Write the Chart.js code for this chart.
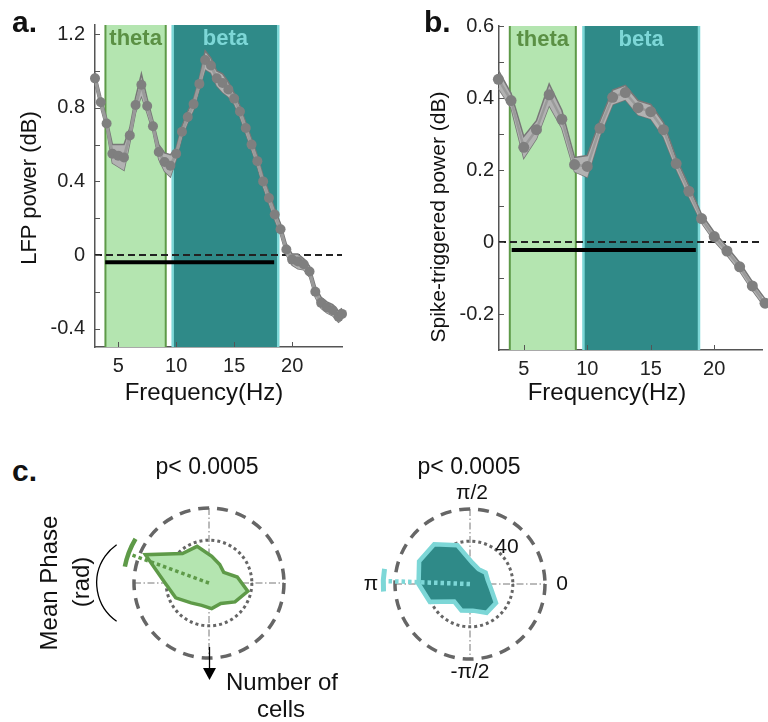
<!DOCTYPE html>
<html><head><meta charset="utf-8">
<script src="https://cdn.jsdelivr.net/npm/chart.js@4/dist/chart.umd.min.js"></script>
<style>
html,body{margin:0;padding:0;background:#fff}
body{width:768px;height:722px;overflow:hidden;position:relative;font-family:"Liberation Sans",Arial,sans-serif;color:#111}
canvas{position:absolute}
.t{position:absolute;white-space:nowrap;line-height:1}
.c{transform:translateX(-50%)}
.r{transform:translate(-50%,-50%) rotate(-90deg)}
.b{font-weight:bold}
</style></head><body>
<canvas id="ca" width="360" height="410" style="left:0;top:0"></canvas>
<canvas id="cb" width="348" height="410" style="left:420px;top:0"></canvas>
<canvas id="pl" width="300" height="300" style="left:59px;top:433px"></canvas>
<canvas id="pr" width="300" height="300" style="left:320px;top:434px"></canvas>

<div class="t b" style="left:12px;top:7px;font-size:30px">a.</div>
<div class="t b" style="left:424px;top:7px;font-size:30px">b.</div>
<div class="t b" style="left:12px;top:456px;font-size:30px">c.</div>
<div class="t r" style="left:29px;top:188px;font-size:22px">LFP power (dB)</div>
<div class="t r" style="left:437px;top:217px;font-size:21px">Spike-triggered power (dB)</div>
<div class="t c" style="left:204px;top:380px;font-size:24px">Frequency(Hz)</div>
<div class="t c" style="left:607px;top:380px;font-size:24px">Frequency(Hz)</div>
<div class="t c" style="left:207px;top:455px;font-size:23px">p&lt; 0.0005</div>
<div class="t c" style="left:469px;top:455px;font-size:23px">p&lt; 0.0005</div>
<div class="t r" style="left:49px;top:583px;font-size:24px">Mean Phase</div>
<div class="t r" style="left:81px;top:582px;font-size:24px">(rad)</div>
<div class="t c" style="left:282px;top:670px;font-size:24px">Number of</div>
<div class="t c" style="left:281px;top:697px;font-size:24px">cells</div>
<div class="t c" style="left:472px;top:481px;font-size:21px">π/2</div>
<div class="t c" style="left:562px;top:572px;font-size:21px">0</div>
<div class="t c" style="left:371px;top:572px;font-size:21px">π</div>
<div class="t c" style="left:507px;top:535px;font-size:21px">40</div>
<div class="t c" style="left:470px;top:660px;font-size:21px">-π/2</div>

<script>
// ---------- data ----------
const freqA = [3.0,3.5,4.0,4.5,5.0,5.5,6.0,6.5,7.0,7.5,8.0,8.5,9.0,9.5,10.0,10.5,11.0,11.5,12.0,12.5,13.0,13.5,14.0,14.5,15.0,15.5,16.0,16.5,17.0,17.5,18.0,18.5,19.0,19.5,20.0,20.5,21.0,21.5,22.0,22.5,23.0,23.5,24.0,24.3];
const lfpMean = [0.96,0.83,0.715,0.55,0.54,0.53,0.65,0.815,0.925,0.81,0.70,0.56,0.505,0.485,0.55,0.67,0.75,0.82,0.93,1.06,1.03,0.96,0.935,0.90,0.85,0.78,0.69,0.60,0.51,0.40,0.31,0.22,0.14,0.03,-0.025,-0.035,-0.05,-0.09,-0.20,-0.26,-0.285,-0.30,-0.335,-0.32];
const lfpSem = [0.03,0.03,0.03,0.05,0.06,0.07,0.04,0.04,0.06,0.04,0.03,0.04,0.05,0.06,0.03,0.03,0.03,0.03,0.03,0.05,0.04,0.04,0.05,0.04,0.03,0.03,0.03,0.03,0.03,0.03,0.03,0.03,0.03,0.03,0.03,0.04,0.03,0.03,0.03,0.03,0.03,0.03,0.03,0.03];

const freqB = [3,4,5,6,7,8,9,10,11,12,13,14,15,16,17,18,19,20,21,22,23,24];
const stpMean = [0.452,0.393,0.263,0.312,0.409,0.341,0.215,0.21,0.316,0.402,0.415,0.373,0.362,0.312,0.218,0.141,0.065,0.015,-0.025,-0.069,-0.122,-0.17];
const stpSem = [0.025,0.02,0.03,0.025,0.03,0.025,0.02,0.03,0.02,0.02,0.02,0.02,0.02,0.02,0.015,0.015,0.012,0.012,0.012,0.012,0.012,0.012];

const thetaBand = [3.9, 9.1];
const betaBand = [9.7, 18.8];
const sigA = [3.88, 18.45], sigLevelA = -0.04;
const sigB = [4.05, 18.55], sigLevelB = -0.022;

const xTicks = [5,10,15,20];
const yTicksA = [-0.4,-0.2,0,0.2,0.4,0.6,0.8,1.0,1.2];
const yLabelsA = [-0.4,0,0.4,0.8,1.2];
const yTicksB = [-0.2,-0.1,0,0.1,0.2,0.3,0.4,0.5,0.6];
const yLabelsB = [-0.2,0,0.2,0.4,0.6];

// polar histograms: bin centre angles (deg, counter-clockwise from 0 rad), counts of cells
const binAngles = [12,-12,-36,-60,-84,-108,-132,-156,180,156,132,108,84,60,36];
const thetaCounts = [27,37,30,22,24,22,25,34,41,65,37,36,25,20,17];
const betaCounts  = [17,20,30,31,25,26,22,41,48,52,50,38,20,16,18];
const thetaMeanPhase = 160, thetaCI = [149,169];
const betaMeanPhase = 178, betaCI = [170,185];
const polarRings = [40, 70];

// ---------- styles ----------
const FONT = '"Liberation Sans", Arial, sans-serif';
Chart.defaults.font.family = FONT;
const GREEN_FILL = '#b4e5b0', GREEN_EDGE = '#5e9a48', GREEN_TEXT = '#5b9044';
const TEAL_FILL = '#2f8a88', TEAL_EDGE = '#7dd7d7';

const lineDeco = {
  id: 'lineDeco',
  beforeDatasetsDraw(chart, args, o) {
    const {ctx, chartArea: {top, bottom}, scales: {x}} = chart;
    ctx.save();
    for (const b of o.bands) {
      const x0 = x.getPixelForValue(b.range[0]), x1 = x.getPixelForValue(b.range[1]);
      ctx.fillStyle = b.fill;
      ctx.fillRect(x0, top, x1 - x0, bottom - top);
      ctx.strokeStyle = b.edge; ctx.lineWidth = b.edgeWidth;
      ctx.beginPath();
      ctx.moveTo(x0, top); ctx.lineTo(x0, bottom);
      ctx.moveTo(x1, top); ctx.lineTo(x1, bottom);
      ctx.stroke();
      ctx.fillStyle = b.textColor;
      ctx.font = 'bold 22px ' + FONT;
      ctx.textAlign = 'center'; ctx.textBaseline = 'alphabetic';
      ctx.fillText(b.label, (x0 + x1) / 2, top + 20);
    }
    ctx.restore();
  },
  afterDraw(chart) {
    const {ctx, chartArea: ca, scales: {x, y}} = chart;
    ctx.save();
    ctx.strokeStyle = '#555'; ctx.lineWidth = 1;
    ctx.beginPath();
    y.ticks.forEach(t => { const p = Math.round(y.getPixelForValue(t.value)) + 0.5; ctx.moveTo(ca.left, p); ctx.lineTo(ca.left + 5, p); });
    x.ticks.forEach(t => { const p = Math.round(x.getPixelForValue(t.value)) + 0.5; ctx.moveTo(p, ca.bottom); ctx.lineTo(p, ca.bottom - 5); });
    ctx.stroke();
    ctx.restore();
  }
};

function fmt(v) { return String(Math.round(v * 10) / 10); }

function lineChart(id, freq, mean, sem, opts) {
  const pts = (arr) => freq.map((f, i) => ({x: f, y: arr[i]}));
  return new Chart(document.getElementById(id), {
    type: 'line',
    data: {datasets: [
      {data: pts(mean), borderColor: '#9a9a9a', borderWidth: opts.lw, pointRadius: opts.pr, pointBackgroundColor: '#7f7f7f', pointBorderWidth: 0, clip: false, tension: 0},
      {data: pts(mean.map((m, i) => m + sem[i])), borderColor: '#777', borderWidth: 1.5, pointRadius: 0, fill: '+1', backgroundColor: '#b2b2b2', clip: false, tension: 0},
      {data: pts(mean.map((m, i) => m - sem[i])), borderColor: '#777', borderWidth: 1.5, pointRadius: 0, fill: false, clip: false, tension: 0},
      {data: [{x: opts.xmin, y: 0}, {x: opts.xmax, y: 0}], borderColor: '#222', borderWidth: 2, borderDash: [7, 4], pointRadius: 0, clip: false},
      {data: [{x: opts.sig[0], y: opts.sigLevel}, {x: opts.sig[1], y: opts.sigLevel}], borderColor: '#000', borderWidth: 4, pointRadius: 0, borderCapStyle: 'butt'}
    ]},
    options: {
      responsive: false, animation: false, events: [],
      layout: {padding: {left: 0, right: opts.padRight, top: opts.padTop, bottom: 0}},
      plugins: {
        legend: {display: false}, tooltip: {enabled: false},
        lineDeco: {bands: [
          {range: thetaBand, fill: GREEN_FILL, edge: GREEN_EDGE, edgeWidth: 2, label: 'theta', textColor: GREEN_TEXT},
          {range: betaBand, fill: TEAL_FILL, edge: TEAL_EDGE, edgeWidth: 2.5, label: 'beta', textColor: TEAL_EDGE}
        ]}
      },
      scales: {
        x: {type: 'linear', min: opts.xmin, max: opts.xmax,
            afterFit: s => { s.height = opts.xh; },
            afterBuildTicks: s => { s.ticks = xTicks.map(v => ({value: v})); },
            grid: {display: false, drawTicks: false},
            border: {color: '#555', width: 1.5},
            ticks: {padding: 7, color: '#222', font: {size: 20}, maxRotation: 0, autoSkip: false}},
        y: {type: 'linear', min: opts.ymin, max: opts.ymax,
            afterFit: s => { s.width = opts.yw; },
            afterBuildTicks: s => { s.ticks = opts.yTicks.map(v => ({value: v})); },
            grid: {display: false, drawTicks: false},
            border: {color: '#555', width: 1.5},
            ticks: {padding: opts.ypad, color: '#222', font: {size: 20}, autoSkip: false,
                    callback: v => opts.yLabels.some(l => Math.abs(l - v) < 1e-9) ? fmt(v) : ''}}
      }
    },
    plugins: [lineDeco]
  });
}

lineChart('ca', freqA, lfpMean, lfpSem, {pr: 5, lw: 3, xmin: 3.0, xmax: 24.3, ymin: -0.5, ymax: 1.25, xh: 63, yw: 95, padTop: 25, padRight: 18, ypad: 10, sig: sigA, sigLevel: sigLevelA, yTicks: yTicksA, yLabels: yLabelsA});
lineChart('cb', freqB, stpMean, stpSem, {pr: 5.5, lw: 2.5, xmin: 3.05, xmax: 23.8, ymin: -0.3, ymax: 0.6, xh: 60, yw: 79, padTop: 26, padRight: 0, ypad: 5, sig: sigB, sigLevel: sigLevelB, yTicks: yTicksB, yLabels: yLabelsB});

// ---------- polar ----------
const polarDeco = {
  id: 'polarDeco',
  beforeDatasetsDraw(chart, args, o) {
    const s = chart.scales.r, ctx = chart.ctx, cx = s.xCenter, cy = s.yCenter;
    const Ri = s.getDistanceFromCenterForValue(o.rings[0]);
    const R = s.getDistanceFromCenterForValue(o.rings[1]);
    ctx.save();
    ctx.strokeStyle = '#777'; ctx.lineWidth = 1; ctx.setLineDash([7, 2.5, 1.5, 2.5]);
    ctx.beginPath();
    ctx.moveTo(cx - R, cy); ctx.lineTo(cx + R, cy);
    ctx.moveTo(cx, cy - R); ctx.lineTo(cx, cy + R);
    ctx.stroke();
    ctx.strokeStyle = '#666'; ctx.setLineDash([3, 3]); ctx.lineWidth = 3;
    ctx.beginPath(); ctx.arc(cx, cy, Ri, 0, 2 * Math.PI); ctx.stroke();
    ctx.setLineDash([11, 8]); ctx.lineWidth = 3.5;
    ctx.beginPath(); ctx.arc(cx, cy, R, 0, 2 * Math.PI); ctx.stroke();
    ctx.restore();
  },
  afterDatasetsDraw(chart, args, o) {
    const s = chart.scales.r, ctx = chart.ctx, cx = s.xCenter, cy = s.yCenter;
    const k = s.drawingArea / (s.max - s.min);
    const rad = d => d * Math.PI / 180;
    ctx.save();
    ctx.strokeStyle = o.color;
    ctx.lineWidth = o.meanWidth; ctx.setLineDash([3.5, 3]);
    const L = o.lineR * k;
    ctx.beginPath(); ctx.moveTo(cx, cy);
    ctx.lineTo(cx + L * Math.cos(rad(o.mean)), cy - L * Math.sin(rad(o.mean)));
    ctx.stroke();
    ctx.setLineDash([]); ctx.lineWidth = o.arcWidth;
    ctx.beginPath(); ctx.arc(cx, cy, o.arcR * k, -rad(o.ci[1]), -rad(o.ci[0])); ctx.stroke();
    if (o.annot) {
      ctx.strokeStyle = '#000'; ctx.lineWidth = 1.3;
      ctx.beginPath(); ctx.arc(cx - 65.6, cy, 46.7, rad(125), rad(235)); ctx.stroke();
      ctx.beginPath(); ctx.moveTo(cx + 0.5, cy + 64); ctx.lineTo(cx + 0.5, cy + 86); ctx.stroke();
      ctx.fillStyle = '#000';
      ctx.beginPath(); ctx.moveTo(cx - 6, cy + 85); ctx.lineTo(cx + 7, cy + 85); ctx.lineTo(cx + 0.5, cy + 97); ctx.closePath(); ctx.fill();
    }
    ctx.restore();
  }
};

function polar(id, counts, fill, edge, edgeW, mean, ci, deco) {
  return new Chart(document.getElementById(id), {
    type: 'radar',
    data: {labels: binAngles.map(a => a + '°'),
           datasets: [{data: counts, backgroundColor: fill, borderColor: edge, borderWidth: edgeW, pointRadius: 0, fill: true, tension: 0}]},
    options: {
      responsive: false, animation: false, events: [],
      layout: {padding: 75},
      plugins: {legend: {display: false}, tooltip: {enabled: false},
                polarDeco: Object.assign({rings: polarRings, mean: mean, ci: ci}, deco)},
      scales: {r: {min: 0, max: 70, startAngle: 78,
                   ticks: {display: false}, pointLabels: {display: false},
                   angleLines: {display: false}, grid: {display: false}}}
    },
    plugins: [polarDeco]
  });
}

polar('pl', thetaCounts, GREEN_FILL, GREEN_EDGE, 3.5, thetaMeanPhase, thetaCI,
      {color: GREEN_EDGE, meanWidth: 3.5, lineR: 76, arcR: 80, arcWidth: 4.5, annot: true});
polar('pr', betaCounts, TEAL_FILL, TEAL_EDGE, 4.5, betaMeanPhase, betaCI,
      {color: TEAL_EDGE, meanWidth: 4.5, lineR: 79, arcR: 81, arcWidth: 5, annot: false});
</script>
</body></html>
